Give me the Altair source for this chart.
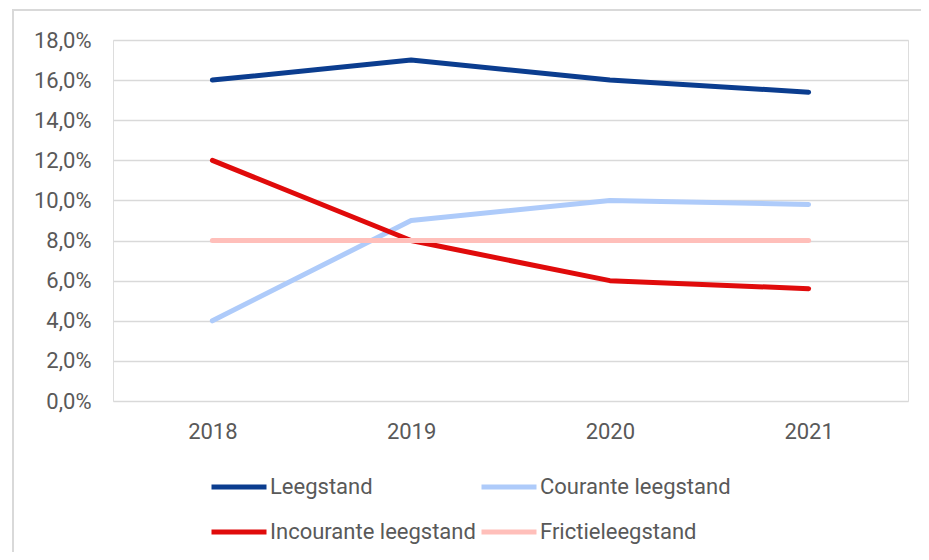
import altair as alt
import pandas as pd

years = ["2018", "2019", "2020", "2021"]
series_names = ["Leegstand", "Courante leegstand", "Incourante leegstand", "Frictieleegstand"]
leegstand = [16.0, 17.0, 16.0, 15.4]
courante = [4.0, 9.0, 10.0, 9.8]
incourante = [12.0, 8.0, 6.0, 5.6]
frictie = [8.0, 8.0, 8.0, 8.0]
colors = ["#0B3D8F", "#AECBFA", "#E00B0B", "#FFBFBA"]
y_ticks = [0, 2, 4, 6, 8, 10, 12, 14, 16, 18]

rows = []
for name, vals in zip(series_names, [leegstand, courante, incourante, frictie]):
    for yr, v in zip(years, vals):
        rows.append({"year": yr, "series": name, "value": v})
df = pd.DataFrame(rows)

FONT = "Roboto, sans-serif"

lines = alt.Chart(df).mark_line(strokeWidth=5, strokeCap="round", strokeJoin="round").encode(
    x=alt.X("year:O", sort=years, scale=alt.Scale(type="point", padding=0.5),
            axis=alt.Axis(title=None, labelAngle=0, ticks=False, domain=False,
                          labelPadding=20, labelFontSize=22, labelColor="#595959",
                          labelFont=FONT)),
    y=alt.Y("value:Q", scale=alt.Scale(domain=[0, 18], nice=False),
            axis=alt.Axis(title=None, values=y_ticks, ticks=False, domain=False,
                          labelPadding=22, labelFontSize=22, labelColor="#595959",
                          labelFont=FONT, gridColor="#D9D9D9", gridWidth=1.5,
                          labelExpr="replace(format(datum.value, '.1f'), '.', ',') + '%'")),
    color=alt.Color("series:N", sort=series_names,
                    scale=alt.Scale(domain=series_names, range=colors),
                    legend=alt.Legend(title=None, orient="none", legendX=96, legendY=417,
                                      direction="horizontal",
                                      columns=2, symbolType="stroke", symbolSize=3025,
                                      symbolStrokeWidth=5, labelFontSize=22,
                                      labelFont=FONT, labelColor="#595959",
                                      labelOffset=1, columnPadding=-5, rowPadding=4,
                                      padding=0, labelLimit=400)),
)

frame = alt.Chart(df).mark_rect(fill=None, stroke="#D9D9D9", strokeWidth=1.5).encode(
    x=alt.value(-100), x2=alt.value(812), y=alt.value(-30), y2=alt.value(540)
)

chart = alt.layer(frame, lines).properties(
    width=795, height=361,
    padding={"left": 105, "top": 32, "right": 13, "bottom": 151},
    autosize=alt.AutoSizeParams(type="none"),
).configure_view(stroke=None).configure(background="white")

chart.save("out.html", embed_options={"renderer": "svg", "actions": False})
